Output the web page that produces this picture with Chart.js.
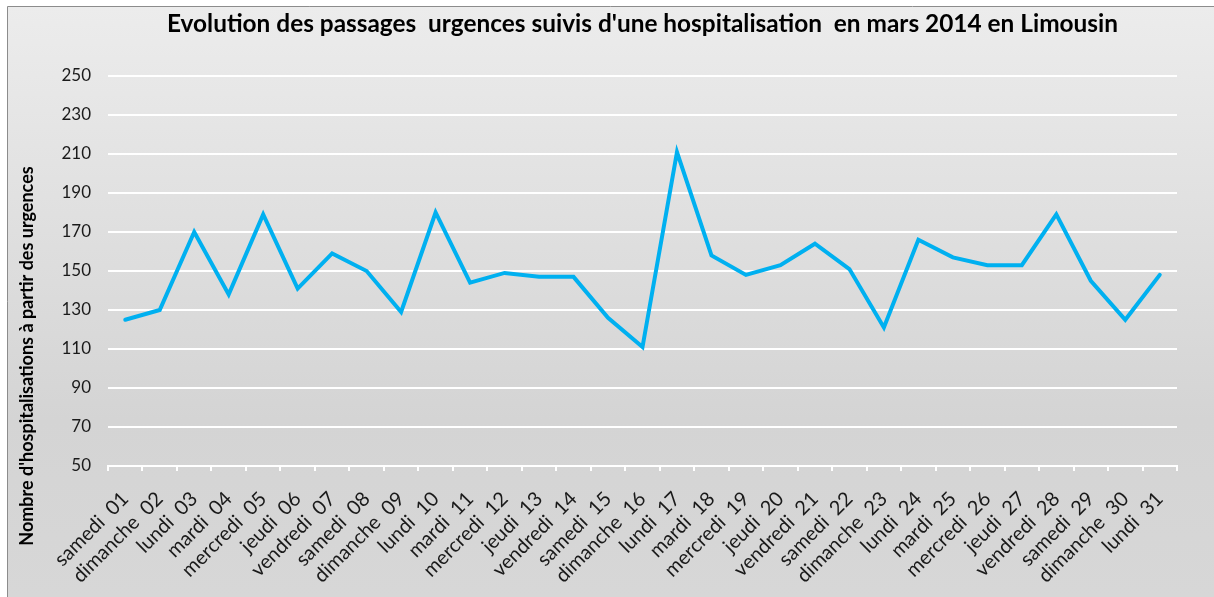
<!DOCTYPE html>
<html>
<head>
<meta charset="utf-8">
<script src="https://cdn.jsdelivr.net/npm/chart.js@4"></script>
<style>
  html, body { margin: 0; padding: 0; background: #ffffff; }
  #wrap { position: relative; width: 1214px; height: 597px; }
</style>
</head>
<body>
<div id="wrap"><canvas id="c" width="1214" height="597"></canvas></div>
<script>
// ---- Data ----
const chartTitle = "Evolution des passages  urgences suivis d'une hospitalisation  en mars 2014 en Limousin";
const yAxisTitle = "Nombre d'hospitalisations à partir des urgences";
const categories = [
  "samedi  01", "dimanche  02", "lundi  03", "mardi  04", "mercredi  05", "jeudi  06",
  "vendredi  07", "samedi  08", "dimanche  09", "lundi  10", "mardi  11", "mercredi  12",
  "jeudi  13", "vendredi  14", "samedi  15", "dimanche  16", "lundi  17", "mardi  18",
  "mercredi  19", "jeudi  20", "vendredi  21", "samedi  22", "dimanche  23", "lundi  24",
  "mardi  25", "mercredi  26", "jeudi  27", "vendredi  28", "samedi  29", "dimanche  30",
  "lundi  31"
];
const hospitalisations = [
  125, 130, 170, 138, 179, 141, 159, 150, 129, 180, 144, 149, 147, 147, 126, 111,
  211, 158, 148, 153, 164, 151, 121, 166, 157, 153, 153, 179, 145, 125, 148
];
const yMin = 50;
const yMax = 250;
const yStep = 20;

// ---- Styling / layout ----
const FONT = "Lato, 'Open Sans', 'DejaVu Sans', sans-serif";
const PLOT_LEFT = 108;
const PLOT_RIGHT = 1177;
const PLOT_BOTTOM = 466;

const backgroundPlugin = {
  id: 'bg',
  beforeDraw(chart) {
    const ctx = chart.ctx;
    const w = chart.width, h = chart.height;
    ctx.save();
    ctx.fillStyle = '#ffffff';
    ctx.fillRect(0, 0, w, h);
    const g = ctx.createLinearGradient(0, 7, 0, h);
    g.addColorStop(0, '#ececec');
    g.addColorStop(0.7, '#d4d4d4');
    g.addColorStop(1, '#d7d7d7');
    ctx.fillStyle = g;
    ctx.fillRect(8, 7, w - 8, h - 7);
    ctx.strokeStyle = '#8c8c8c';
    ctx.lineWidth = 1;
    ctx.beginPath();
    ctx.moveTo(7.5, h);
    ctx.lineTo(7.5, 6.5);
    ctx.lineTo(w, 6.5);
    ctx.stroke();
    ctx.restore();
  },
  afterDraw(chart) {
    const ctx = chart.ctx;
    ctx.save();
    ctx.translate(27, 356);
    ctx.rotate(-Math.PI / 2);
    ctx.font = "bold 18px " + FONT;
    ctx.fillStyle = '#000000';
    ctx.textAlign = 'center';
    ctx.textBaseline = 'middle';
    ctx.fillText(yAxisTitle, 0, 0);
    ctx.restore();
  }
};

new Chart(document.getElementById('c'), {
  type: 'line',
  data: {
    labels: categories,
    datasets: [{
      data: hospitalisations,
      borderColor: '#00b0f0',
      backgroundColor: '#00b0f0',
      borderWidth: 4,
      tension: 0,
      pointRadius: 0,
      pointHoverRadius: 0,
      borderJoinStyle: 'miter',
      borderCapStyle: 'round',
      fill: false
    }]
  },
  options: {
    responsive: false,
    animation: false,
    devicePixelRatio: 1,
    layout: { padding: { left: 0, right: 1214 - PLOT_RIGHT, top: 0, bottom: 0 } },
    plugins: {
      legend: { display: false },
      tooltip: { enabled: false },
      title: {
        display: true,
        text: chartTitle,
        fullSize: false,
        color: '#000000',
        font: { family: FONT, size: 24.4, weight: 'bold', lineHeight: 1.2 },
        padding: { top: 10, bottom: 36.7 }
      }
    },
    scales: {
      x: {
        type: 'category',
        offset: true,
        grid: {
          offset: true,
          drawOnChartArea: false,
          drawTicks: true,
          tickLength: 5,
          color: '#ffffff',
          lineWidth: 2
        },
        border: { display: true, color: '#ffffff', width: 2 },
        ticks: {
          autoSkip: false,
          maxRotation: 45,
          minRotation: 45,
          padding: 16,
          color: '#1a1a1a',
          font: { family: FONT, size: 20 }
        },
        afterFit(scale) { scale.height = 597 - PLOT_BOTTOM; }
      },
      y: {
        min: yMin,
        max: yMax,
        grid: {
          drawTicks: false,
          color: '#ffffff',
          lineWidth: 2
        },
        border: { display: false },
        ticks: {
          stepSize: yStep,
          padding: 17,
          color: '#1a1a1a',
          font: { family: FONT, size: 17 }
        },
        afterFit(scale) { scale.width = PLOT_LEFT; }
      }
    }
  },
  plugins: [backgroundPlugin]
});
</script>
</body>
</html>
